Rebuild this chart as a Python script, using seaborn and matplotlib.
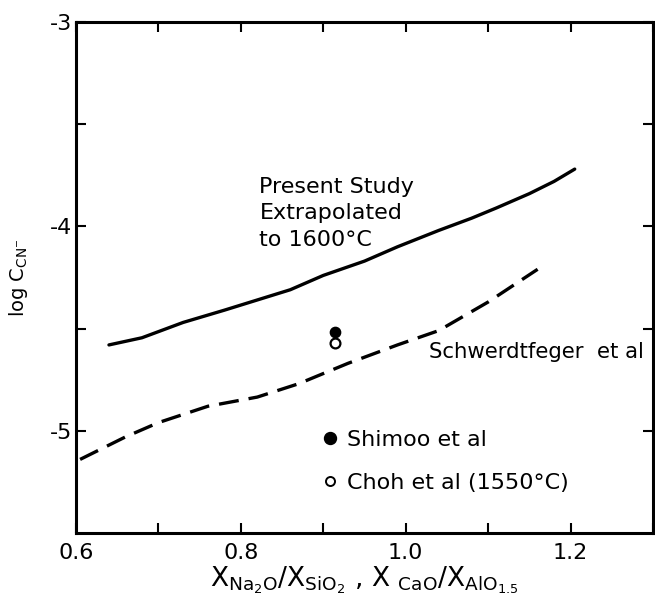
import matplotlib
matplotlib.use("Agg")
import matplotlib.pyplot as plt
import seaborn as sns
import numpy as np
from matplotlib.lines import Line2D

# ---- data ----
present_x = [0.64, 0.68, 0.73, 0.78, 0.82, 0.86, 0.90, 0.95, 0.99, 1.04, 1.08, 1.11, 1.15, 1.18, 1.205]
present_y = [-4.58, -4.545, -4.47, -4.41, -4.36, -4.31, -4.24, -4.17, -4.10, -4.02, -3.96, -3.91, -3.84, -3.78, -3.72]

schw_x = [0.605, 0.66, 0.70, 0.76, 0.82, 0.87, 0.93, 0.99, 1.04, 1.10, 1.16]
schw_y = [-5.14, -5.03, -4.96, -4.88, -4.835, -4.77, -4.67, -4.58, -4.51, -4.37, -4.21]

shimoo_x = [0.914]
shimoo_y = [-4.517]
choh_x = [0.914]
choh_y = [-4.571]

xtick_major = [0.6, 0.8, 1.0, 1.2]
xtick_labels = ["0.6", "0.8", "1.0", "1.2"]
xtick_minor = [0.7, 0.9, 1.1, 1.3]
ytick_major = [-5, -4, -3]
ytick_labels = ["-5", "-4", "-3"]
ytick_minor = [-4.5, -3.5]

sns.set_style("ticks")
plt.rcParams["font.family"] = ["DejaVu Sans"]
plt.rcParams["axes.unicode_minus"] = False
plt.rcParams["mathtext.fontset"] = "dejavusans"
for k in ["text.color", "axes.labelcolor", "xtick.color", "ytick.color", "axes.edgecolor"]:
    plt.rcParams[k] = "black"

fig = plt.figure(figsize=(6.55, 6.02), dpi=100)
ax = fig.add_axes([0.116, 0.1146, 0.881, 0.849])

sns.lineplot(x=present_x, y=present_y, sort=False, estimator=None, color="black",
             linewidth=2.4, ax=ax)
sns.lineplot(x=schw_x, y=schw_y, sort=False, estimator=None, color="black",
             linewidth=2.4, linestyle=(0, (6, 3)), ax=ax)
sns.scatterplot(x=choh_x, y=choh_y, color="white", edgecolor="black", linewidth=1.6,
                s=50, ax=ax, zorder=3)
sns.scatterplot(x=shimoo_x, y=shimoo_y, color="black", edgecolor="black", linewidth=1,
                s=55, ax=ax, zorder=4)

ax.set_xlim(0.6, 1.3)
ax.set_ylim(-5.5, -3)

ax.set_xticks(xtick_major)
ax.set_xticklabels(xtick_labels)
ax.set_xticks(xtick_minor, minor=True)
ax.set_yticks(ytick_major)
ax.set_yticklabels(ytick_labels)
ax.set_yticks(ytick_minor, minor=True)

for s in ax.spines.values():
    s.set_visible(True)
    s.set_linewidth(2.2)
    s.set_color("black")

ax.tick_params(which="both", direction="in", top=True, right=True, length=7,
               width=1.5, color="black")
ax.tick_params(axis="x", which="major", labelsize=16, pad=7)
ax.tick_params(axis="y", which="major", labelsize=16, pad=3)

ax.set_xlabel(r"$\mathrm{X_{Na_2O}/X_{SiO_2}}$ , $\mathrm{X\ _{CaO}/X_{AlO_{1.5}}}$",
              fontsize=19, labelpad=1)
ax.set_ylabel(r"log C$_{\mathrm{CN}^{-}}$", fontsize=14, labelpad=14)

ax.text(0.8225, -3.758, "Present Study\nExtrapolated\nto 1600\u00b0C", fontsize=16,
        ha="left", va="top", linespacing=1.4)
ax.text(1.028, -4.644, "Schwerdtfeger  et al", fontsize=15.3, ha="left", va="baseline")

handles = [
    Line2D([], [], marker="o", linestyle="none", markerfacecolor="black",
           markeredgecolor="black", markersize=8.6, label="Shimoo et al"),
    Line2D([], [], marker="o", linestyle="none", markerfacecolor="white",
           markeredgecolor="black", markeredgewidth=1.4, markersize=6.5,
           label="Choh et al (1550\u00b0C)"),
]
ax.legend(handles=handles, loc="upper left", bbox_to_anchor=(0.409, 0.219),
          frameon=False, fontsize=16, handlelength=0.8, handletextpad=0.37,
          labelspacing=1.04, borderpad=0.4, borderaxespad=0)

fig.savefig("out.png", dpi=100)
